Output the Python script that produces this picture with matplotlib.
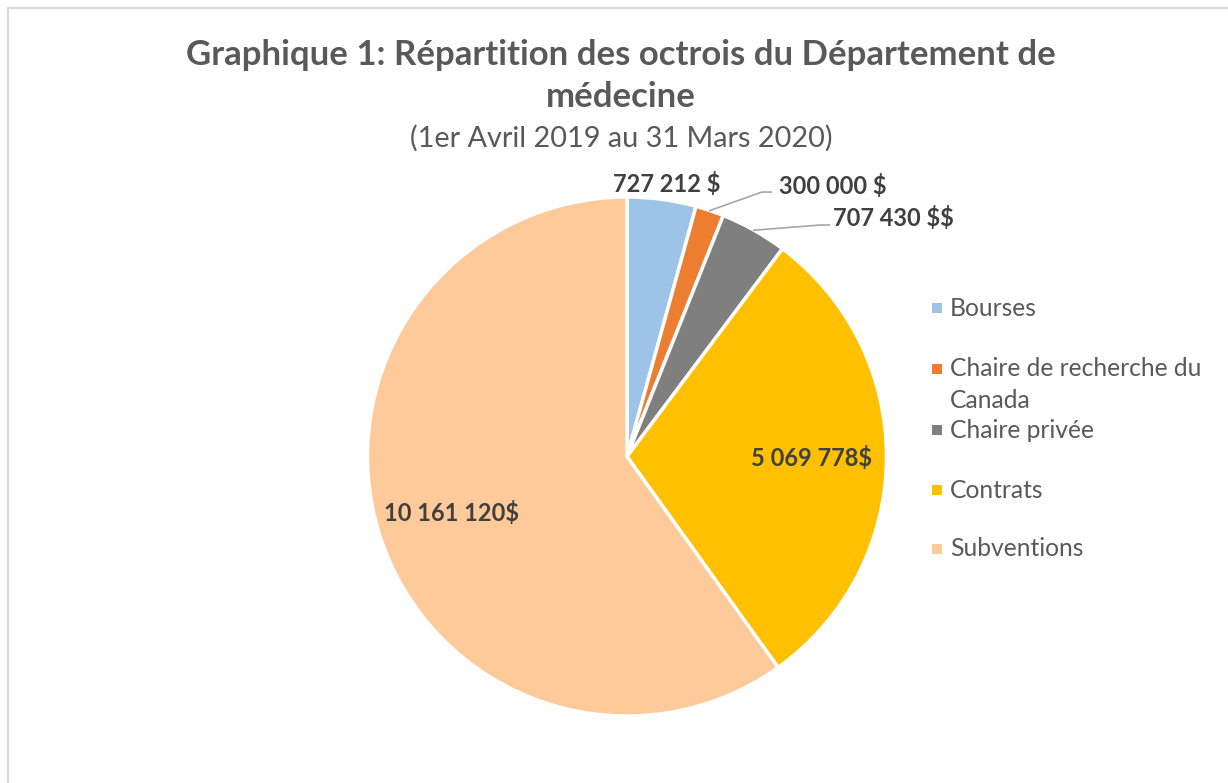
import numpy as np
import matplotlib.pyplot as plt
from matplotlib.patches import Rectangle

plt.rcParams["font.family"] = ["Lato", "DejaVu Sans"]
plt.rcParams["text.parse_math"] = False  # labels contain "$"

categories = ["Bourses", "Chaire de recherche du", "Chaire privée", "Contrats", "Subventions"]
values = [727212, 300000, 707430, 5069778, 10161120]
value_labels = ["727 212 $", "300 000 $", "707 430 $$", "5 069 778$", "10 161 120$"]
colors = ["#9DC3E6", "#ED7D31", "#7F7F7F", "#FFC000", "#FFCA99"]

TEXT = "#595959"
LABEL = "#404040"

fig = plt.figure(figsize=(12.28, 7.83), dpi=100)

# light frame like the Excel chart area
fig.patches.append(Rectangle((8 / 1228, -0.1), 1.2, (783 - 8) / 783 + 0.1,
                             transform=fig.transFigure, fill=False,
                             edgecolor="#D9D9D9", linewidth=1.5))

tx0 = 621 / 1228
fig.text(tx0, 1 - 55 / 783, "Graphique 1: Répartition des octrois du Département de",
         ha="center", va="center", fontsize=25, fontweight="bold", color=TEXT)
fig.text(tx0, 1 - 97 / 783, "médecine",
         ha="center", va="center", fontsize=25, fontweight="bold", color=TEXT)
fig.text(tx0, 1 - 138 / 783, "(1er Avril 2019 au 31 Mars 2020)",
         ha="center", va="center", fontsize=20.8, color=TEXT)

cx, cy, r = 627, 456.5, 259.5
ax = fig.add_axes([(cx - r) / 1228, (783 - cy - r) / 783, 2 * r / 1228, 2 * r / 783])
wedges, _ = ax.pie(values, colors=colors, startangle=90, counterclock=False,
                   wedgeprops=dict(edgecolor="white", linewidth=2.5))
ax.set_xlim(-1, 1)
ax.set_ylim(-1, 1)
ax.set_aspect("equal")
ax.axis("off")

mids = [np.deg2rad((w.theta1 + w.theta2) / 2) for w in wedges]

lab_kw = dict(fontsize=17, fontweight="bold", color=LABEL, va="center")

# Bourses: just outside the slice
a = mids[0]
ax.text(1.07 * np.cos(a) + 0.01, 1.06 * np.sin(a), value_labels[0], ha="center", **lab_kw)

# small slices with leader lines: (elbow x, elbow y, text x, text y)
leaders = {1: (0.520, 1.019, 0.586, 1.042), 2: (0.744, 0.892, 0.794, 0.919)}
for i, (ex, ey, tx, ty) in leaders.items():
    a = mids[i]
    ax.plot([np.cos(a), ex, ex + 0.035], [np.sin(a), ey, ey],
            color="#A6A6A6", linewidth=1.2, clip_on=False)
    ax.text(tx, ty, value_labels[i], ha="left", **lab_kw)

# big slices: labels inside
for i in (3, 4):
    a = mids[i]
    ax.text(0.71 * np.cos(a), 0.71 * np.sin(a), value_labels[i], ha="center", **lab_kw)

# legend (entry 2 wraps onto a second line)
leg_y = [308, 369, 430, 490, 549]
for name, col, y in zip(categories, colors, leg_y):
    fig.patches.append(Rectangle((932 / 1228, 1 - (y + 5) / 783), 10 / 1228, 10 / 783,
                                 transform=fig.transFigure, facecolor=col, edgecolor="none"))
    fig.text(950 / 1228, 1 - y / 783, name, ha="left", va="center",
             fontsize=17.7, color=TEXT)
fig.text(950 / 1228, 1 - 400 / 783, "Canada", ha="left", va="center",
         fontsize=17.7, color=TEXT)

fig.savefig("out.png", dpi=100)
